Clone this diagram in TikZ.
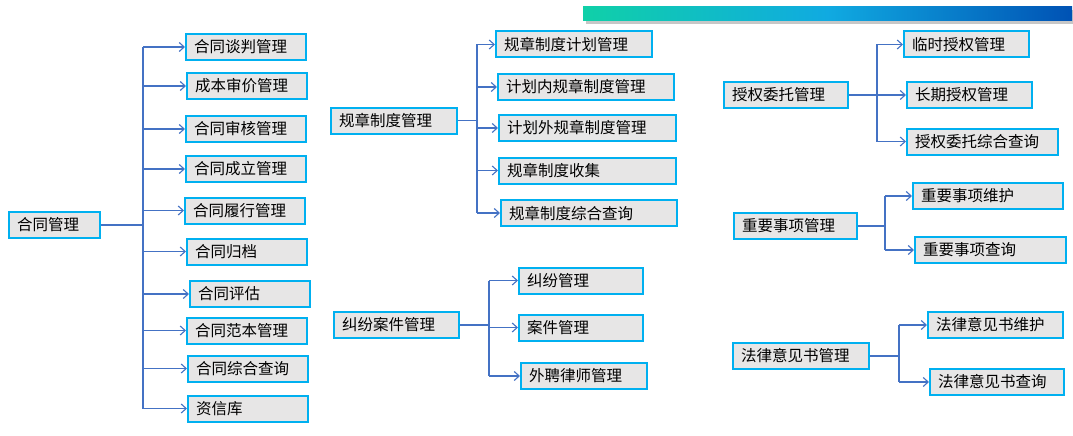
\documentclass[tikz,border=0pt]{standalone}
\usepackage{fontspec}
\setmainfont{Noto Sans CJK SC}
\usetikzlibrary{arrows.meta}
\definecolor{boxline}{RGB}{0,176,240}
\definecolor{boxfill}{RGB}{231,230,230}
\definecolor{linkblue}{RGB}{68,114,196}
\definecolor{barleft}{RGB}{16,208,168}
\definecolor{barmid}{RGB}{16,170,225}
\definecolor{barright}{RGB}{0,82,180}
\tikzset{
  box/.style={draw=boxline, fill=boxfill, line width=2pt, minimum height=26pt,
    inner xsep=8pt, text width=#1pt, align=left, anchor=west,
    font=\fontsize{15.5}{18}\selectfont},
  box/.default=104,
  link/.style={draw=linkblue, line width=1.1pt, -{Straight Barb[length=5pt,width=9pt]}},
  trunk/.style={draw=linkblue, line width=1.1pt}
}
\begin{document}
\begin{tikzpicture}[x=1pt,y=-1pt]
  \useasboundingbox (0,0) rectangle (1073,436);
  % title bar
  \fill[black!22] (586,10) rectangle (1075,24);
  \shade[left color=barleft, right color=barright, middle color=barmid] (583,7) rectangle (1072,21);

  % contracts
  \coordinate (ht) at (143,0);
  \node[box=75] (hroot) at (8,225) {合同管理};
  \foreach \n/\x/\y/\t in {1/185/47/合同谈判管理, 2/186/86/成本审价管理, 3/185/129/合同审核管理,
      4/185/169/合同成立管理, 5/184/210.5/合同履行管理, 6/186/251.5/合同归档,
      7/189/294/合同评估, 8/186/330.5/合同范本管理, 9/187/368.5/合同综合查询, 10/187/408.5/资信库}
    \node[box] (h\n) at (\x,\y) {\t};
  \foreach \n in {1,...,10}
    \draw[link] (ht |- h\n.west) -- (h\n.west);
  \draw[trunk] (ht |- h1.west) -- (ht |- h10.west);
  \draw[trunk] (hroot.east) -- (ht |- hroot.east);

  % rules
  \coordinate (gt) at (477,0);
  \node[box=110] (groot) at (330,120.5) {规章制度管理};
  \foreach \n/\x/\y/\w/\t in {1/495/44.5/140/规章制度计划管理, 2/497/87/160/计划内规章制度管理,
      3/498/128/161/计划外规章制度管理, 4/498/170.5/161/规章制度收集, 5/500/213/160/规章制度综合查询}
    \node[box=\w] (g\n) at (\x,\y) {\t};
  \foreach \n in {1,...,5}
    \draw[link] (gt |- g\n.west) -- (g\n.west);
  \draw[trunk] (gt |- g1.west) -- (gt |- g5.west);
  \draw[trunk] (groot.east) -- (gt |- groot.east);

  % disputes
  \coordinate (jt) at (489,0);
  \node[box=109] (jroot) at (333,325) {纠纷案件管理};
  \foreach \n/\x/\y/\w/\t in {1/518/280.5/108/纠纷管理, 2/518/327.5/108/案件管理, 3/520/376/110/外聘律师管理}
    \node[box=\w] (j\n) at (\x,\y) {\t};
  \foreach \n in {1,...,3}
    \draw[link] (jt |- j\n.west) -- (j\n.west);
  \draw[trunk] (jt |- j1.west) -- (jt |- j3.west);
  \draw[trunk] (jroot.east) -- (jt |- jroot.east);

  % authorization
  \coordinate (st) at (877,0);
  \node[box=108] (sroot) at (723,95) {授权委托管理};
  \foreach \n/\x/\y/\w/\t in {1/903/44.5/109/临时授权管理, 2/906/95/109/长期授权管理, 3/906/141.5/135/授权委托综合查询}
    \node[box=\w] (s\n) at (\x,\y) {\t};
  \foreach \n in {1,...,3}
    \draw[link] (st |- s\n.west) -- (s\n.west);
  \draw[trunk] (st |- s1.west) -- (st |- s3.west);
  \draw[trunk] (sroot.east) -- (st |- sroot.east);

  % major matters
  \coordinate (zt) at (885,0);
  \node[box=107] (zroot) at (733,226) {重要事项管理};
  \foreach \n/\x/\y/\w/\t in {1/912/196/134/重要事项维护, 2/914/250/135/重要事项查询}
    \node[box=\w] (z\n) at (\x,\y) {\t};
  \foreach \n in {1,2}
    \draw[link] (zt |- z\n.west) -- (z\n.west);
  \draw[trunk] (zt |- z1.west) -- (zt |- z2.west);
  \draw[trunk] (zroot.east) -- (zt |- zroot.east);

  % legal opinions
  \coordinate (ft) at (899,0);
  \node[box=120] (froot) at (732,356) {法律意见书管理};
  \foreach \n/\x/\y/\w/\t in {1/927/325/119/法律意见书维护, 2/929/382/118/法律意见书查询}
    \node[box=\w] (f\n) at (\x,\y) {\t};
  \foreach \n in {1,2}
    \draw[link] (ft |- f\n.west) -- (f\n.west);
  \draw[trunk] (ft |- f1.west) -- (ft |- f2.west);
  \draw[trunk] (froot.east) -- (ft |- froot.east);
\end{tikzpicture}
\end{document}
